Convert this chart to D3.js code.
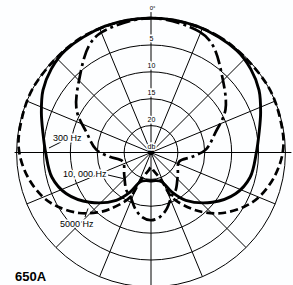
<!DOCTYPE html>
<meta charset="utf-8" />
<style>
  body {
    margin: 0;
    background: #fdfeff;
  }
  svg {
    display: block;
  }
  .grid {
    fill: none;
    stroke: #000;
    stroke-width: 1;
  }
  .curve {
    fill: none;
    stroke: #000;
    stroke-width: 2.7;
    stroke-linejoin: round;
  }
  .f300 {
    stroke-width: 2.9;
  }
  .f5000 {
    stroke-dasharray: 8 4;
  }
  .f10000 {
    stroke-dasharray: 14 4 3 4;
  }
  .lbl {
    font-family: "Liberation Sans", Arial, sans-serif;
    font-size: 9px;
    fill: #000;
    stroke: #fdfeff;
    stroke-width: 3;
    paint-order: stroke;
  }
  .ring-lbl {
    font-family: "Liberation Sans", Arial, sans-serif;
    font-size: 7px;
    fill: #000;
    text-anchor: middle;
    stroke: #fdfeff;
    stroke-width: 3;
    paint-order: stroke;
  }
  .leader {
    stroke: #000;
    stroke-width: 1;
  }
</style>
<body>
  <div id="chart"></div>
  <script src="https://d3js.org/d3.v7.min.js"></script>
  <script>
    const width = 293;
    const height = 285;
    const cx = 151;
    const cy = 152.5;

    // grid
    const ringLevels = [0, -5, -10, -15, -20];
    const ringLabels = ["5", "10", "15", "20", "db"];
    const spokeAngles = d3.range(0, 360, 22.5);

    // response, dB relative to 0 deg, right half (mirrored for the left)
    const angles300 = [0, 20, 40, 50, 60, 70, 80, 90, 104, 116, 129, 144, 152, 160, 170, 180];
    const db300 = [0, 0, -0.2, -0.8, -1.8, -3.3, -4.6, -5.4, -6, -7.5, -10.3, -14, -16.6, -19.2, -19.7, -19.7];

    const angles5000 = [0, 30, 60, 80, 90, 101, 112, 120, 130, 138, 144, 155, 159, 166, 173, 180];
    const db5000 = [0, 0, 0, -0.2, -0.5, -1.6, -3.2, -4.9, -7.5, -10, -12, -15.8, -19.3, -20.9, -21.7, -22.3];

    const angles10000 = [0, 22, 30, 43, 60, 73, 87, 96, 108, 130, 147, 154, 164, 172, 180];
    const db10000 = [0, -0.8, -2, -5.6, -9, -12.5, -14.8, -17.3, -19.5, -18.5, -16.6, -16.1, -14.2, -12.9, -12.4];

    const r = d3.scaleLinear().domain([-25, 0]).range([0, 134.4]);
    const rad = (a) => (a * Math.PI) / 180;

    const svg = d3
      .select("#chart")
      .append("svg")
      .attr("width", width)
      .attr("height", height);

    const g = svg.append("g").attr("transform", `translate(${cx},${cy})`);

    g.selectAll(".ring")
      .data(ringLevels)
      .enter()
      .append("circle")
      .attr("class", "grid")
      .attr("r", (d) => r(d));

    g.selectAll(".spoke")
      .data(spokeAngles.filter((a) => a % 90 !== 0))
      .enter()
      .append("line")
      .attr("class", "grid")
      .attr("x2", (a) => r(0) * Math.sin(rad(a)))
      .attr("y2", (a) => -r(0) * Math.cos(rad(a)));

    // main axes
    g.append("line").attr("class", "grid").attr("x1", -r(0) - 2).attr("x2", r(0) + 6);
    g.append("line").attr("class", "grid").attr("y1", -r(0) - 6).attr("y2", r(0) + 4);

    const makeLoop = (angles, vals) => {
      const pts = angles.map((a, i) => ({ a: a, db: vals[i] }));
      return pts.concat(
        pts
          .slice(1, -1)
          .reverse()
          .map((p) => ({ a: 360 - p.a, db: p.db }))
      );
    };

    const line = d3
      .lineRadial()
      .angle((d) => rad(d.a))
      .radius((d) => r(d.db))
      .curve(d3.curveCatmullRomClosed.alpha(0.5));

    const series = [
      { cls: "f5000", pts: makeLoop(angles5000, db5000) },
      { cls: "f10000", pts: makeLoop(angles10000, db10000) },
      { cls: "f300", pts: makeLoop(angles300, db300) },
    ];

    g.selectAll(".curve")
      .data(series)
      .enter()
      .append("path")
      .attr("class", (d) => "curve " + d.cls)
      .attr("d", (d) => line(d.pts));

    g.append("circle").attr("r", 2.6).attr("fill", "#000");

    // ring labels on the vertical axis
    g.selectAll(".ring-lbl")
      .data(ringLevels.slice(1).concat([-25]))
      .enter()
      .append("text")
      .attr("class", "ring-lbl")
      .attr("x", 0.5)
      .attr("y", (d) => -r(d) - 6)
      .attr("dy", "0.35em")
      .text((d, i) => ringLabels[i]);

    g.append("text")
      .attr("class", "ring-lbl")
      .attr("x", 1.5)
      .attr("y", -r(0) - 10)
      .attr("dy", "0.35em")
      .style("font-size", "6px")
      .text("0°");

    // frequency labels
    const labels = [
      { t: "300 Hz", x: 53, y: 140.5, lx1: 61, ly1: 142, lx2: 49, ly2: 148 },
      { t: "10, 000 Hz", x: 63, y: 177, lx1: 108, ly1: 175, lx2: 123, ly2: 178.5 },
      { t: "5000 Hz", x: 60, y: 226.5, lx1: 85, ly1: 217, lx2: 88, ly2: 208.5 },
    ];

    labels.forEach((d) => {
      svg
        .append("line")
        .attr("class", "leader")
        .attr("x1", d.lx1)
        .attr("y1", d.ly1)
        .attr("x2", d.lx2)
        .attr("y2", d.ly2);
      svg
        .append("text")
        .attr("class", "lbl")
        .attr("x", d.x)
        .attr("y", d.y)
        .text(d.t);
    });

    svg
      .append("text")
      .attr("x", 15)
      .attr("y", 281)
      .style("font-family", "'Liberation Sans', Arial, sans-serif")
      .style("font-weight", "bold")
      .style("font-size", "13px")
      .attr("fill", "#000")
      .text("650A");
  </script>
</body>
